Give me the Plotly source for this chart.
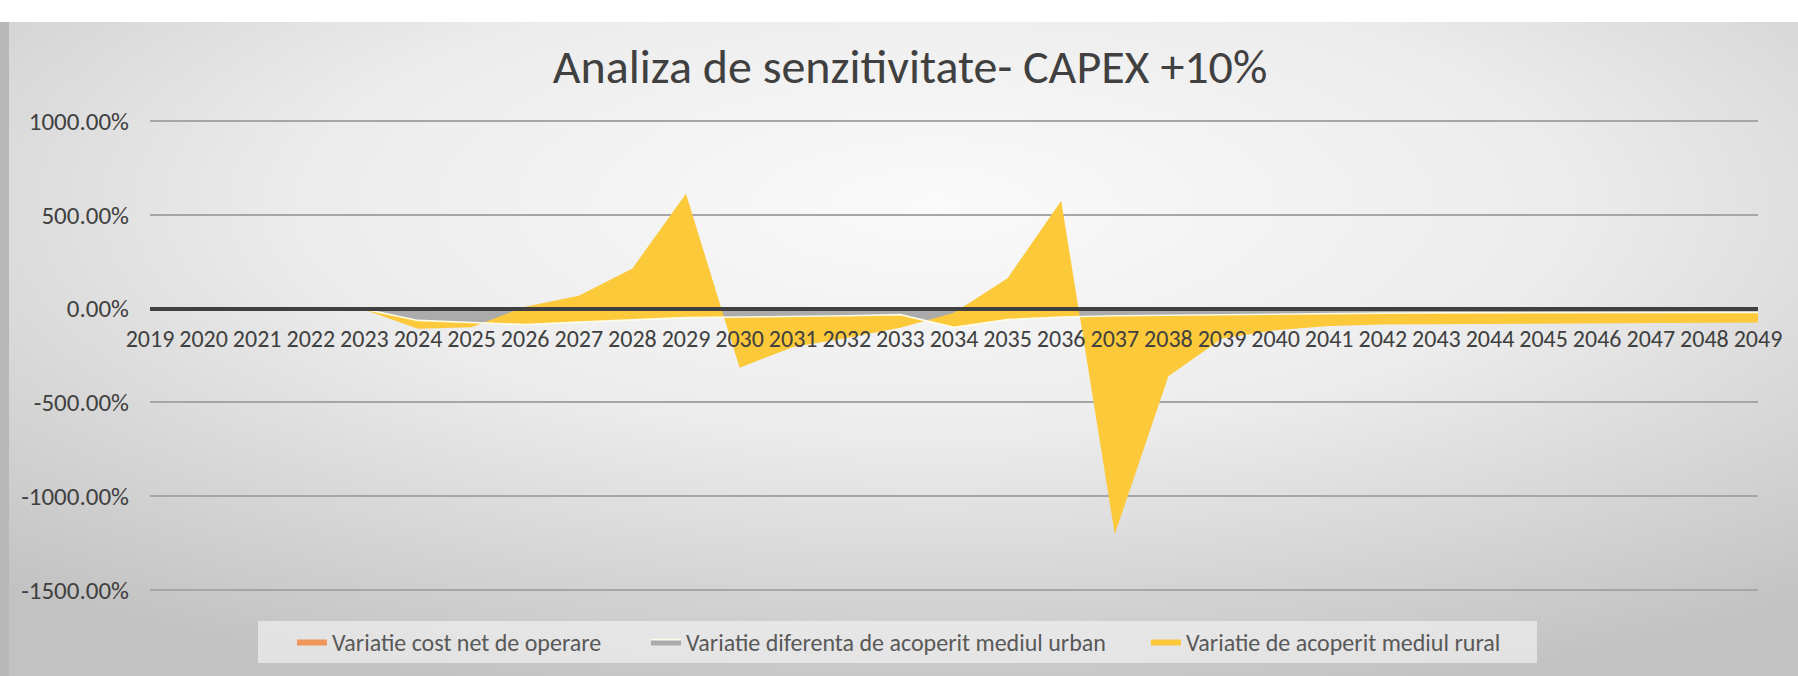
import base64
import plotly.graph_objects as go

# ---------------- data (percent values) ----------------
years = [2019, 2020, 2021, 2022, 2023, 2024, 2025, 2026, 2027, 2028, 2029,
         2030, 2031, 2032, 2033, 2034, 2035, 2036, 2037, 2038, 2039,
         2040, 2041, 2042, 2043, 2044, 2045, 2046, 2047, 2048, 2049]

series_names = ["Variatie cost net de operare",
                "Variatie diferenta de acoperit mediul urban",
                "Variatie de acoperit mediul rural"]

cost_net_operare = [-1.0, -1.0, -1.2, -1.0, -1.5, -2.0, -2.0, -2.0, -1.5, -1.5, -1.0,
                    -1.0, -1.0, -1.0, -1.0, -2.0, -1.0, -1.0, -1.0, -1.0, -1.0,
                    -1.0, -1.0, -1.0, -1.0, -1.0, -1.0, -1.0, -1.0, -1.0, -1.0]

dif_acoperit_urban = [-1.0, -1.0, -0.8, -1.0, -1.5, -61.0, -71.0, -83.0, -70.5, -58.5, -47.0,
                      -44.0, -41.0, -37.0, -31.0, -98.0, -57.0, -44.0, -37.0, -34.0, -32.0,
                      -25.0, -23.0, -23.0, -22.0, -22.0, -21.0, -21.0, -20.0, -19.0, -19.0]

acoperit_rural = [-1.0, -1.0, -1.0, -2.0, -3.0, -45.0, -27.0, 95.0, 140.0, 274.0, 660.0,
                  -270.0, -163.0, -119.0, -70.0, 78.0, 220.0, 620.0, -1165.0, -325.0, -127.0,
                  -89.0, -69.0, -61.0, -60.0, -58.0, -58.0, -56.0, -56.0, -55.0, -54.0]

year_labels = [str(y) for y in years]
y_ticks = [-1500, -1000, -500, 0, 500, 1000]
y_tick_labels = ["%.2f%%" % v for v in y_ticks]

colors = ["#F0955A", "#ABABAB", "#FCC93A"]

# ---------------- geometry ----------------
W, H = 1798, 676
L, R = 150, 40
Y_TOP_PX, Y_BOT_PX = 121, 590          # pixel rows of the 1000% and -1500% gridlines
PAD_PX = 3                             # keep edge gridlines inside the plot area
T, B = Y_TOP_PX - PAD_PX, H - Y_BOT_PX - PAD_PX
PW, PH = W - L - R, H - T - B
units_per_px = (1000 - (-1500)) / (Y_BOT_PX - Y_TOP_PX)
YMIN, YMAX = -1500 - PAD_PX * units_per_px, 1000 + PAD_PX * units_per_px


def ypaper(py):
    return (H - B - py) / PH


def xpaper(px):
    return (px - L) / PW


FONT = "Carlito, Lato, 'Open Sans', sans-serif"

# background gradient (Excel-like chart area style)
TOP_STRIP = 22
svg = f"""<svg xmlns='http://www.w3.org/2000/svg' width='{W}' height='{H-TOP_STRIP}' viewBox='0 0 {W} {H-TOP_STRIP}' preserveAspectRatio='none'>
<defs>
<radialGradient id='g' cx='0.52' cy='0.28' r='0.78'>
<stop offset='0' stop-color='#fafafa'/>
<stop offset='0.45' stop-color='#ececec'/>
<stop offset='1' stop-color='#c2c2c2'/>
</radialGradient>
</defs>
<rect x='0' y='0' width='{W}' height='{H-TOP_STRIP}' fill='url(#g)'/>
<rect x='0' y='0' width='9' height='{H-TOP_STRIP}' fill='#b8b8b8'/>
</svg>"""
svg_uri = "data:image/svg+xml;base64," + base64.b64encode(svg.encode()).decode()

legend_ids = ["legend", "legend2", "legend3"]
legend_text_x = [334, 688, 1188]       # pixel x where each legend text starts
LEGEND_Y = 642

fig = go.Figure()
for name, vals, col, lg in zip(series_names,
                               [cost_net_operare, dif_acoperit_urban, acoperit_rural],
                               colors, legend_ids):
    if col == "#ABABAB":
        line = dict(color="rgba(255,253,235,0.95)", width=1.6)
    else:
        line = dict(color=col, width=0)
    fig.add_trace(go.Scatter(
        x=years, y=vals, name=name, mode="lines",
        stackgroup="one", fillcolor=col, line=line,
        hoverinfo="x+y+name", legend=lg,
    ))

legend_common = dict(orientation="h", xanchor="left", yanchor="middle",
                     bgcolor="rgba(0,0,0,0)",
                     font=dict(family=FONT, size=24, color="#595959"),
                     itemwidth=30)

fig.update_layout(
    width=W, height=H,
    margin=dict(l=L, r=R, t=T, b=B, pad=0),
    paper_bgcolor="white",
    plot_bgcolor="rgba(0,0,0,0)",
    font=dict(family=FONT, color="#595959"),
    title=dict(text="Analiza de senzitivitate- CAPEX +10%",
               x=910 / W, xref="container", xanchor="center",
               y=1 - 66 / H, yref="container", yanchor="middle",
               font=dict(family=FONT, size=48, color="#404040", weight=500)),
    images=[dict(source=svg_uri, xref="paper", yref="paper",
                 x=xpaper(0), y=ypaper(TOP_STRIP),
                 sizex=W / PW, sizey=(H - TOP_STRIP) / PH,
                 xanchor="left", yanchor="top", sizing="stretch",
                 layer="below")],
    shapes=[dict(type="rect", xref="paper", yref="paper",
                 x0=xpaper(258), x1=xpaper(1537), y0=ypaper(663), y1=ypaper(621),
                 fillcolor="rgba(242,242,242,0.65)", line=dict(width=0),
                 layer="below")],
    xaxis=dict(range=[years[0], years[-1]], tickvals=years, ticktext=year_labels,
               tickangle=0, anchor="free", position=(0 - YMIN) / (YMAX - YMIN),
               showline=True, linecolor="#404040", linewidth=4,
               layer="above traces", showgrid=False, zeroline=False,
               ticks="", ticklabelstandoff=8,
               tickfont=dict(family=FONT, size=24, color="#404040")),
    yaxis=dict(range=[YMIN, YMAX], tickvals=y_ticks, ticktext=y_tick_labels,
               showgrid=True, gridcolor="#a6a6a6", gridwidth=2,
               zeroline=False, showline=False, ticks="", ticklabelstandoff=20,
               tickfont=dict(family=FONT, size=25, color="#404040")),
    legend=dict(legend_common, x=xpaper(legend_text_x[0] - 42), y=ypaper(LEGEND_Y)),
    legend2=dict(legend_common, x=xpaper(legend_text_x[1] - 42), y=ypaper(LEGEND_Y)),
    legend3=dict(legend_common, x=xpaper(legend_text_x[2] - 42), y=ypaper(LEGEND_Y)),
    showlegend=True,
)

fig.write_html("out.html", config={"displayModeBar": False},
               post_script="document.body.style.margin='0';")
